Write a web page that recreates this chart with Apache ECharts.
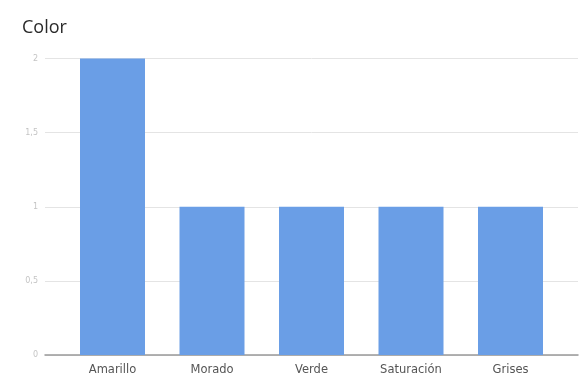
<!DOCTYPE html>
<html><head><meta charset="utf-8">
<script src="https://cdn.jsdelivr.net/npm/echarts@6/dist/echarts.min.js"></script>
<style>html,body{margin:0;padding:0;background:#fff}#c{width:587px;height:380px}</style>
</head><body><div id="c"></div>
<script>
const categories = ['Amarillo', 'Morado', 'Verde', 'Saturación', 'Grises'];
const values = [2, 1, 1, 1, 1];
const yTicks = [0, 0.5, 1, 1.5, 2];
const title = 'Color';

const chart = echarts.init(document.getElementById('c'), null, {renderer: 'canvas'});
const yMin = yTicks[0], yMax = yTicks[yTicks.length - 1];
chart.setOption({
  animation: false,
  title: {text: title, left: 17, top: 14, textStyle: {fontFamily: 'Open Sans', fontSize: 18, fontWeight: 500, color: '#2a2a2a'}},
  grid: [
    {left: 45, right: 9, top: 58.5, bottom: 25, containLabel: false},
    {left: 62.75, right: 26.75, top: 58.5, bottom: 25, containLabel: false}
  ],
  xAxis: [
    {gridIndex: 0, type: 'value', min: 0, max: 1, show: true, axisLine: {show: true, lineStyle: {color: '#999', width: 1.5}}, axisTick: {show: false}, axisLabel: {show: false}, splitLine: {show: false}},
    {gridIndex: 1, type: 'category', data: categories, axisLine: {show: false}, axisTick: {show: false},
     axisLabel: {fontFamily: 'DejaVu Sans', fontSize: 11.5, color: '#555', margin: 9}}
  ],
  yAxis: [
    {gridIndex: 0, type: 'value', min: yMin, max: yMax, interval: 0.5, axisLine: {show: false}, axisTick: {show: false},
     axisLabel: {fontFamily: 'DejaVu Sans', fontSize: 8, color: '#c4c4c4', margin: 7, formatter: v => String(v).replace('.', ',')},
     splitLine: {lineStyle: {color: '#e4e4e4', width: 1}}},
    {gridIndex: 1, type: 'value', min: yMin, max: yMax, show: false}
  ],
  series: [{
    type: 'bar', xAxisIndex: 1, yAxisIndex: 1, data: values, barWidth: 65,
    itemStyle: {color: '#6a9ee6'}, z: 1
  }]
});
</script></body></html>
